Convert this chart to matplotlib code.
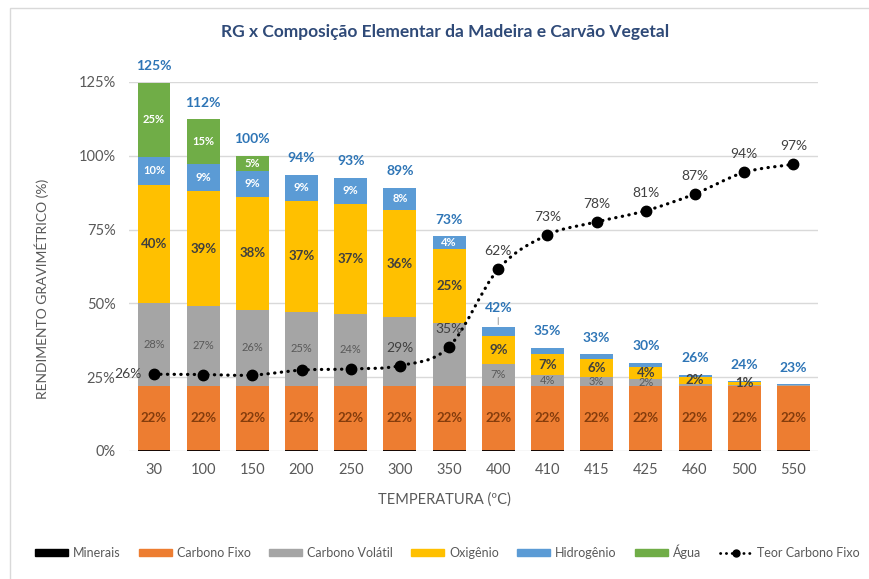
import matplotlib
matplotlib.use("Agg")
import matplotlib.pyplot as plt
from matplotlib.patches import Patch, Rectangle, PathPatch
from matplotlib.lines import Line2D
from matplotlib.path import Path
import numpy as np

plt.rcParams['font.family'] = ['Lato', 'DejaVu Sans']

temperaturas = ['30', '100', '150', '200', '250', '300', '350', '400', '410', '415', '425', '460', '500', '550']
minerais = [0.5] * 14
carbono_fixo = [21.6] * 14
carbono_volatil = [28.0, 27.0, 25.6, 25.1, 24.4, 23.2, 21.4, 7.4, 3.6, 3.0, 2.3, 0.6, 0.4, 0.2]
oxigenio = [40.0, 38.9, 38.4, 37.4, 37.3, 36.3, 24.8, 9.4, 7.0, 6.0, 4.2, 2.4, 0.8, 0.0]
hidrogenio = [9.6, 9.1, 8.8, 9.0, 8.8, 7.6, 4.4, 3.0, 2.3, 1.6, 1.2, 0.6, 0.3, 0.3]
agua = [25.0, 15.3, 5.1, 0, 0, 0, 0, 0, 0, 0, 0, 0, 0, 0]
teor_carbono_fixo = [26.0, 25.9, 25.7, 27.4, 27.8, 28.9, 35.3, 61.6, 73.2, 77.6, 81.4, 87.1, 94.4, 97.1]

# which labels are visible in the original
show_cv = [1, 1, 1, 1, 1, 0, 0, 1, 1, 1, 1, 0, 0, 0]
show_ox = [1] * 13 + [0]
show_h = [1] * 7 + [0] * 7
show_agua = [1, 1, 1] + [0] * 11
show_teor = [1, 0, 0, 0, 0, 1, 1, 1, 1, 1, 1, 1, 1, 1]

C_MIN = '#1A0A04'
C_CF = '#ED7D31'
C_CV = '#A5A5A5'
C_OX = '#FFC000'
C_H = '#5B9BD5'
C_AG = '#70AD47'
TXT = '#595959'

fig = plt.figure(figsize=(8.69, 5.79), dpi=100)
# chart frame
fig.patches.append(Rectangle((10 / 869, -0.1), 1.2, 1 - 8 / 579 + 0.1, transform=fig.transFigure,
                             fill=False, edgecolor='#D9D9D9', linewidth=1.0))

ax = fig.add_axes([0.1489, 0.2211, 0.7924, 0.6373])
x = np.arange(len(temperaturas))
w = 0.67

series = [
    (minerais, C_MIN, 'Minerais'),
    (carbono_fixo, C_CF, 'Carbono Fixo'),
    (carbono_volatil, C_CV, 'Carbono Volátil'),
    (oxigenio, C_OX, 'Oxigênio'),
    (hidrogenio, C_H, 'Hidrogênio'),
    (agua, C_AG, 'Água'),
]
bottom = np.zeros(len(x))
bottoms = []
for vals, col, lab in series:
    v = np.array(vals, dtype=float)
    ax.bar(x, v, w, bottom=bottom, color=col, zorder=2, linewidth=0)
    bottoms.append(bottom.copy())
    bottom = bottom + v
totals = bottom

# segment labels
def seg_labels(vals, bots, show, color, size, weight):
    for i in range(len(x)):
        if show[i]:
            ax.text(x[i], bots[i] + vals[i] / 2, f"{round(vals[i]):.0f}%", ha='center', va='center',
                    color=color, fontsize=size, fontweight=weight, zorder=4)

seg_labels(carbono_fixo, bottoms[1], [1] * 14, '#843C0C', 9.5, 'bold')
seg_labels(carbono_volatil, bottoms[2], show_cv, '#595959', 8, 'normal')
seg_labels(oxigenio, bottoms[3], show_ox, '#3F3F3F', 9.5, 'bold')
seg_labels(hidrogenio, bottoms[4], show_h, 'white', 8, 'bold')
seg_labels(agua, bottoms[5], show_agua, 'white', 8, 'bold')

# total labels
for i in range(len(x)):
    off = 12
    if temperaturas[i] == '400':
        off = 14
        ax.annotate('', xy=(x[i], totals[i]), xytext=(0, off - 5), textcoords='offset points',
                    arrowprops=dict(arrowstyle='-', color='#A6A6A6', lw=0.8))
    ax.annotate(f"{round(totals[i]):.0f}%", xy=(x[i], totals[i]), xytext=(0, off),
                textcoords='offset points', ha='center', va='center', color='#2E75B6',
                fontsize=10, fontweight='bold', annotation_clip=False, zorder=5)

# Teor Carbono Fixo: smooth dotted curve through the points
t = np.array(teor_carbono_fixo, dtype=float)
pts = np.column_stack([x, t])
verts = [pts[0]]
codes = [Path.MOVETO]
n = len(pts)
for i in range(n - 1):
    p0 = pts[i - 1] if i > 0 else pts[i]
    p1 = pts[i]
    p2 = pts[i + 1]
    p3 = pts[i + 2] if i + 2 < n else pts[i + 1]
    c1 = p1 + (p2 - p0) / 6.0
    c2 = p2 - (p3 - p1) / 6.0
    verts += [c1, c2, p2]
    codes += [Path.CURVE4] * 3
path = Path(np.array(verts), codes)
ax.add_patch(PathPatch(path, fill=False, edgecolor='black', linewidth=2.3,
                       linestyle=(0, (0.1, 2.0)), capstyle='round', zorder=6))
ax.plot(x, t, linestyle='none', marker='o', markersize=7.5, color='black', zorder=7)

for i in range(len(x)):
    if show_teor[i]:
        if i == 0:
            ax.annotate(f"{round(t[i]):.0f}%", xy=(x[i], t[i]), xytext=(-9, 0), textcoords='offset points',
                        ha='right', va='center', color='#404040', fontsize=10, zorder=8,
                        annotation_clip=False)
        else:
            ax.annotate(f"{round(t[i]):.0f}%", xy=(x[i], t[i]), xytext=(0, 13), textcoords='offset points',
                        ha='center', va='center', color='#404040', fontsize=10, zorder=8)

ax.set_xlim(-0.5, len(x) - 0.5)
ax.set_ylim(0, 125)
ax.set_yticks([0, 25, 50, 75, 100, 125])
ax.set_yticklabels([f"{v}%" for v in [0, 25, 50, 75, 100, 125]])
ax.set_xticks(x)
ax.set_xticklabels(temperaturas)
ax.tick_params(axis='both', length=0, labelsize=10.5, labelcolor=TXT)
ax.tick_params(axis='x', pad=9)
ax.tick_params(axis='y', pad=10)
ax.grid(axis='y', color='#D9D9D9', linewidth=1.0, zorder=0)
ax.set_axisbelow(True)
for s in ax.spines.values():
    s.set_visible(False)

ax.set_xlabel('TEMPERATURA (ºC)', fontsize=10.5, color=TXT)
ax.set_ylabel('RENDIMENTO GRAVIMÉTRICO (%)', fontsize=10, color=TXT)
ax.xaxis.set_label_coords(0.458, -0.112)
ax.yaxis.set_label_coords(-0.117, 0.44)

fig.text(0.512, 0.945, 'RG x Composição Elementar da Madeira e Carvão Vegetal', ha='center', va='center',
         fontsize=12.5, fontweight='bold', color='#2F4A78')

handles = [Patch(color=c, label=l) for _, c, l in series]
handles[0] = Patch(color='black', label='Minerais')
handles.append(Line2D([], [], color='black', linestyle=(0, (0.1, 2.0)), linewidth=2.0,
                      dash_capstyle='round', marker='o', markersize=5, label='Teor Carbono Fixo'))
leg = fig.legend(handles=handles, loc='center', bbox_to_anchor=(0.515, 0.047), ncol=7, frameon=False,
                 fontsize=9, handlelength=2.6, handleheight=0.55, columnspacing=1.5, handletextpad=0.4)
for txt in leg.get_texts():
    txt.set_color(TXT)

fig.savefig('out.png', dpi=100)
